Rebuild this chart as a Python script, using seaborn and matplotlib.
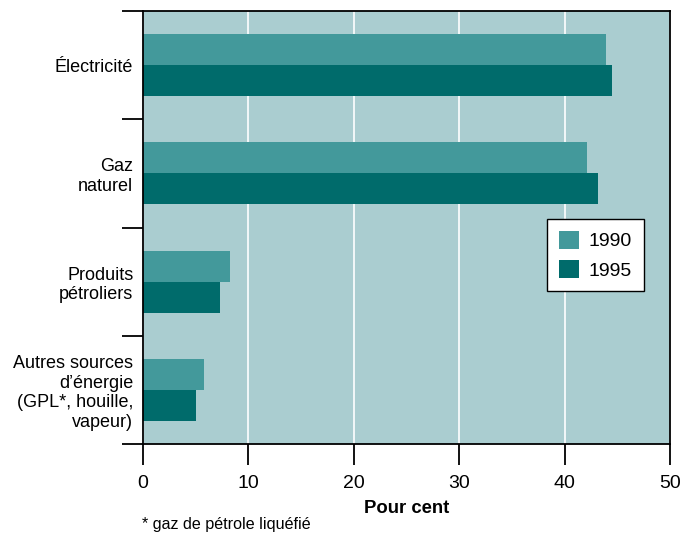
import numpy as np
import pandas as pd
import matplotlib
matplotlib.use("Agg")
import matplotlib.pyplot as plt
import seaborn as sns

# Données (pour cent)
categories = ["Électricité", "Gaz\nnaturel", "Produits\npétroliers",
              "Autres sources\nd\u2019énergie\n(GPL*, houille,\nvapeur)"]
annees = ["1990", "1995"]
valeurs_1990 = [43.9, 42.1, 8.3, 5.8]
valeurs_1995 = [44.5, 43.2, 7.3, 5.0]

df = pd.DataFrame({
    "Catégorie": categories * 2,
    "Année": [annees[0]] * 4 + [annees[1]] * 4,
    "Pour cent": valeurs_1990 + valeurs_1995,
})

sns.set_style("white")
plt.rcParams['font.family'] = ['Liberation Sans', 'DejaVu Sans']
plt.rcParams['text.color'] = 'black'
plt.rcParams['axes.labelcolor'] = 'black'
plt.rcParams['xtick.color'] = 'black'
plt.rcParams['ytick.color'] = 'black'

fig = plt.figure(figsize=(6.9, 5.36), dpi=100)
ax = fig.add_axes([143 / 690, 1 - 444 / 536, 527 / 690, 433 / 536])
ax.set_facecolor("#aacdd0")

sns.barplot(data=df, y="Catégorie", x="Pour cent", hue="Année", orient="h",
            palette=["#43999b", "#006b6b"], width=0.574, gap=0,
            saturation=1, linewidth=0, ax=ax, zorder=2)

ax.set_xlim(0, 50)
ax.set_ylim(3.5, -0.5)
ax.set_xticks([0, 10, 20, 30, 40, 50])
ax.xaxis.grid(True, color="white", linewidth=1.2, zorder=1)
ax.set_axisbelow(True)

# graduations majeures aux limites des catégories, étiquettes au centre
ax.set_yticks([-0.5, 0.5, 1.5, 2.5, 3.5])
ax.set_yticklabels([])
ax.set_yticks(range(4), minor=True)
ax.set_yticklabels(categories, minor=True, fontsize=13)
ax.tick_params(axis="y", which="major", length=15, width=1.3, direction="out", color="black", left=True)
ax.tick_params(axis="y", which="minor", length=0, pad=7)
ax.tick_params(axis="x", length=15, width=1.3, direction="out", color="black", labelsize=14, pad=7, bottom=True)

for s in ax.spines.values():
    s.set_visible(True)
    s.set_color("black")
    s.set_linewidth(1.3)

ax.set_ylabel("")
ax.set_xlabel("Pour cent", fontsize=13.3, fontweight="bold", labelpad=6)

leg = ax.legend(loc="upper left", bbox_to_anchor=((547 - 143) / 527, 1 - (219 - 11) / 433),
                borderaxespad=0, fontsize=14, frameon=True, fancybox=False, edgecolor="black",
                handlelength=1.05, handleheight=1.05, handletextpad=0.5,
                borderpad=0.6, labelspacing=0.5, title=None)
leg.get_frame().set_linewidth(1.0)
leg.get_frame().set_facecolor("white")
leg.get_frame().set_alpha(1)

fig.text(142 / 690, 1 - 525 / 536, "* gaz de pétrole liquéfié", fontsize=11.6, va="center", ha="left")

fig.savefig("out.png", dpi=100)
